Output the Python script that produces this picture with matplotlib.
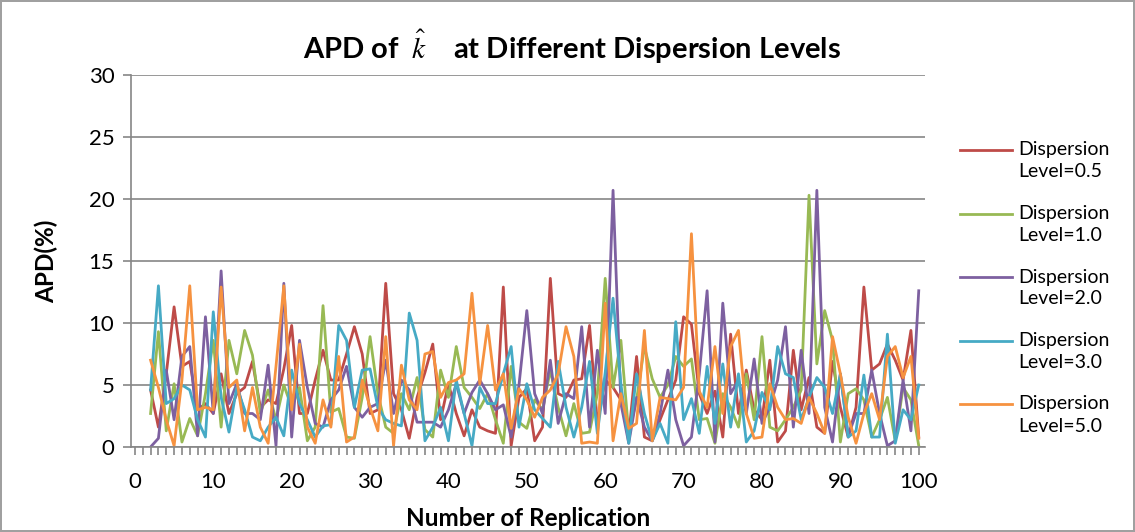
import matplotlib.pyplot as plt
from matplotlib.lines import Line2D
import numpy as np

plt.rcParams["font.family"] = ["Lato", "DejaVu Sans"]
plt.rcParams["mathtext.fontset"] = "stix"

replication = np.arange(2, 101)

apd_05 = [4.6, 1.6, 5.9, 11.3, 6.5, 6.9, 3.0, 3.5, 2.7, 5.9, 2.7,
          4.3, 4.8, 6.9, 3.2, 3.8, 3.5, 6.3, 9.8, 2.7, 2.7, 5.4, 7.8,
          5.4, 5.4, 7.5, 9.7, 7.5, 2.7, 3.0, 13.2, 4.3, 3.0, 0.7, 4.0,
          6.0, 8.3, 2.2, 5.1, 2.7, 0.9, 3.0, 1.6, 1.3, 1.1, 12.9, 0.1,
          4.0, 4.7, 0.5, 1.6, 13.6, 4.3, 4.0, 5.4, 5.5, 9.8, 1.9, 5.4,
          4.8, 3.8, 0.9, 7.3, 0.8, 0.5, 2.2, 3.8, 5.4, 10.5, 9.9, 4.3,
          2.7, 4.5, 0.8, 9.1, 2.7, 6.2, 3.0, 2.2, 7.0, 0.4, 1.3, 7.8,
          3.0, 5.6, 1.6, 1.1, 6.9, 3.2, 0.8, 3.2, 12.9, 6.2, 6.7, 8.3,
          7.0, 5.4, 9.4, 0.8]

apd_10 = [2.7, 9.3, 1.3, 5.1, 0.4, 2.3, 0.9, 4.3, 8.6, 1.6, 8.6,
          5.9, 9.4, 7.4, 2.7, 4.6, 2.2, 5.0, 3.2, 4.8, 0.5, 1.6, 11.4,
          2.8, 3.1, 0.8, 0.7, 4.0, 8.9, 4.3, 1.6, 1.1, 4.3, 3.0, 5.6,
          1.4, 0.8, 6.2, 4.0, 8.1, 4.8, 4.0, 3.1, 4.3, 2.2, 0.3, 6.5,
          2.0, 1.5, 3.8, 3.0, 6.2, 3.2, 0.9, 3.5, 1.1, 1.2, 4.3, 13.6,
          4.8, 8.6, 1.1, 3.8, 8.1, 5.5, 4.0, 5.0, 7.3, 6.5, 7.1, 2.2,
          2.3, 0.3, 4.3, 3.2, 1.6, 5.9, 2.2, 8.9, 1.6, 1.3, 2.2, 3.2,
          4.6, 20.3, 6.7, 11.0, 8.6, 0.4, 4.3, 4.7, 3.8, 0.8, 2.2, 4.0,
          0.5, 4.8, 3.8, 0.1]

apd_20 = [0.0, 0.7, 6.2, 2.2, 7.3, 8.1, 0.9, 10.5, 2.7, 14.2, 3.5,
          5.1, 2.7, 2.7, 2.2, 6.6, 0.1, 13.2, 0.8, 8.6, 4.8, 1.9, 1.6,
          3.8, 4.6, 6.5, 3.2, 2.4, 3.2, 3.5, 7.0, 2.7, 5.4, 4.6, 2.0,
          2.0, 2.0, 1.6, 3.0, 5.1, 2.7, 4.4, 5.4, 4.3, 3.0, 3.4, 0.8,
          5.0, 11.0, 4.3, 2.7, 7.0, 1.9, 4.3, 3.9, 9.7, 1.6, 7.8, 2.7,
          20.7, 3.5, 0.3, 4.0, 1.6, 0.5, 2.7, 6.2, 2.2, 0.1, 0.8, 5.9,
          12.6, 0.4, 11.6, 4.3, 5.4, 2.7, 7.1, 1.9, 3.2, 5.4, 9.7, 1.6,
          7.8, 2.7, 20.7, 3.2, 0.4, 5.9, 0.9, 2.7, 2.7, 6.2, 2.7, 0.1,
          0.5, 5.4, 1.3, 12.6]

apd_30 = [4.6, 13.0, 3.5, 3.9, 5.0, 4.6, 2.2, 0.8, 10.9, 4.0, 1.2,
          4.8, 3.0, 0.8, 0.5, 1.6, 2.4, 0.9, 6.2, 3.5, 2.2, 0.8, 1.7,
          1.8, 9.8, 8.6, 3.2, 6.2, 6.3, 3.2, 2.2, 1.9, 1.7, 10.8, 8.6,
          0.5, 1.6, 3.2, 0.5, 5.4, 2.7, 0.1, 4.8, 3.5, 3.5, 5.9, 8.1,
          1.6, 5.1, 3.0, 2.3, 1.6, 6.9, 3.2, 0.8, 3.2, 6.9, 1.1, 6.0,
          12.0, 5.1, 0.3, 5.9, 2.7, 0.5, 1.9, 0.3, 10.1, 2.2, 3.9, 1.1,
          6.5, 1.9, 6.7, 1.6, 5.9, 0.4, 1.3, 4.4, 3.0, 8.1, 5.9, 5.6,
          2.2, 4.0, 5.6, 4.8, 2.7, 5.9, 0.8, 1.3, 5.8, 0.8, 0.8, 9.1,
          0.3, 3.0, 2.2, 5.0]

apd_50 = [7.0, 4.8, 2.2, 0.1, 5.4, 13.0, 3.0, 3.2, 3.0, 12.9, 4.8,
          5.4, 1.3, 4.8, 1.6, 0.3, 6.5, 13.0, 3.0, 8.3, 1.6, 0.3, 3.8,
          1.6, 7.3, 0.4, 0.8, 5.4, 3.2, 1.3, 8.9, 0.1, 6.6, 3.8, 3.0,
          7.5, 7.7, 4.0, 5.2, 5.4, 5.9, 12.4, 5.1, 9.8, 4.6, 5.9, 1.5,
          4.7, 3.8, 2.4, 4.0, 4.6, 5.9, 9.7, 7.3, 0.3, 0.4, 0.3, 11.6,
          0.5, 4.3, 1.5, 1.9, 9.4, 0.5, 4.0, 3.9, 3.8, 4.8, 17.2, 4.5,
          3.2, 8.1, 2.7, 8.1, 9.4, 2.7, 0.7, 0.8, 5.1, 3.2, 2.2, 2.3,
          1.9, 4.0, 2.7, 1.1, 8.9, 5.9, 2.4, 0.3, 2.7, 4.3, 2.2, 7.3,
          8.1, 5.6, 7.3, 0.7]

series = [apd_05, apd_10, apd_20, apd_30, apd_50]
levels = ["0.5", "1.0", "2.0", "3.0", "5.0"]
colors = ["#BE4B48", "#98B954", "#7D60A0", "#46AAC5", "#F69240"]

fig = plt.figure(figsize=(11.35, 5.32), dpi=100)
fig.patch.set_edgecolor("#A0A0A0")
fig.patch.set_linewidth(1.5)
ax = fig.add_axes([0.1154, 0.1598, 0.6996, 0.6992])

for y, c in zip(series, colors):
    ax.plot(replication, y, color=c, lw=2.0, solid_joinstyle="round")

ax.set_xlim(-0.5, 100.8)
ax.set_ylim(0, 30)
ax.set_xticks(np.arange(0, 101, 10))
ax.set_xticks(np.arange(0, 101, 1), minor=True)
ax.set_yticks(np.arange(0, 31, 5))
ax.grid(axis="y", color="#868686", lw=1.2)
ax.set_axisbelow(True)
for s in ["top", "right"]:
    ax.spines[s].set_visible(False)
for s in ["left", "bottom"]:
    ax.spines[s].set_color("#868686")
    ax.spines[s].set_linewidth(1.2)
ax.tick_params(axis="both", which="both", color="#868686", width=1.2, length=6,
               labelsize=16, pad=6)
ax.tick_params(axis="x", pad=12)

ax.set_xlabel("Number of Replication", fontsize=17.5, fontweight="bold", labelpad=11)
ax.set_ylabel("APD(%)", fontsize=17.5, fontweight="bold", labelpad=22)

fig.text(0.504, 0.912, r"APD of  $\hat{k}$    at Different Dispersion Levels",
         ha="center", va="center", fontsize=21, fontweight="bold")

# legend on the right: handle sits level with the first text line
for i, (lev, c) in enumerate(zip(levels, colors)):
    yk = 1 - (150 + 63.5 * i) / 532
    fig.add_artist(Line2D([960 / 1135, 1012 / 1135], [yk, yk], color=c, lw=2.0,
                          transform=fig.transFigure))
    fig.text(1018 / 1135, yk, "Dispersion", ha="left", va="center", fontsize=14)
    fig.text(1018 / 1135, yk - 22 / 532, "Level=" + lev, ha="left", va="center",
             fontsize=14)

plt.savefig("out.png", dpi=100)
plt.close()
